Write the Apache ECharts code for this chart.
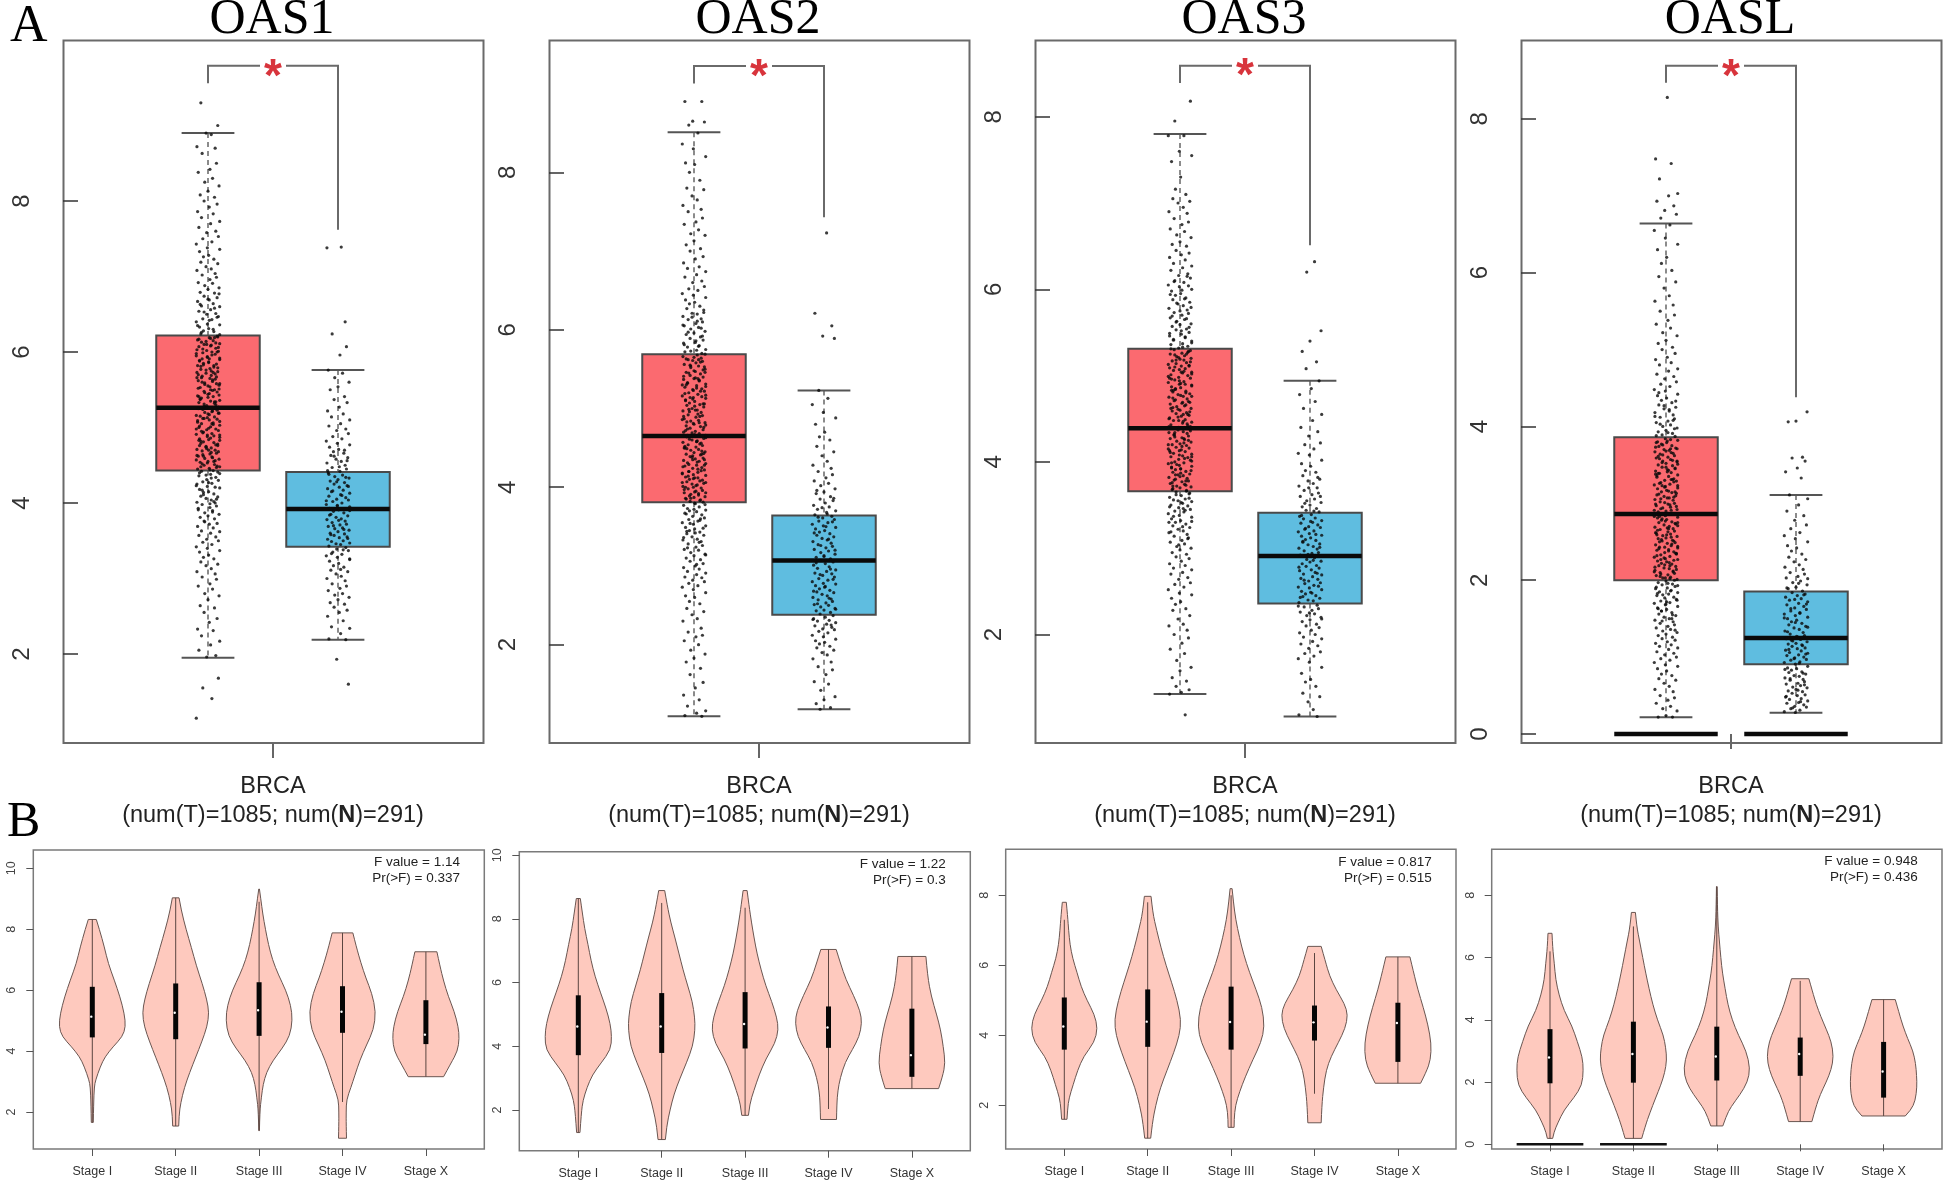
<!DOCTYPE html>
<html><head><meta charset="utf-8"><style>html,body{margin:0;padding:0;background:#fff}#c{width:1944px;height:1182px}</style>
<script src="https://cdn.jsdelivr.net/npm/echarts@6/dist/echarts.min.js"></script></head><body><div id="c"></div>
<script>
// ---------- DATA: panel A ----------
const genes = ['OAS1','OAS2','OAS3','OASL'];
const oas1Ticks = [2,4,6,8], oas2Ticks = [2,4,6,8], oas3Ticks = [2,4,6,8], oaslTicks = [0,2,4,6,8];
// rows: position, whisker low, Q1, median, Q3, whisker high
const oas1Box = [[1,1.95,4.43,5.26,6.22,8.9],[2,2.19,3.42,3.92,4.41,5.76]];
const oas2Box = [[1,1.09,3.81,4.65,5.69,8.51],[2,1.18,2.38,3.07,3.64,5.23]];
const oas3Box = [[1,1.31,3.66,4.39,5.31,7.8],[2,1.05,2.36,2.91,3.41,4.94]];
const oaslBox = [[1,0.217,2.0,2.86,3.86,6.64],[2,0.277,0.906,1.25,1.855,3.11]];
const oaslZero = [0,0];
// rows: bracket top, left end, right end
const brackets = [[9.79,9.56,7.62],[9.35,9.13,7.43],[8.59,8.39,6.51],[8.69,8.47,4.38]];
const oas1Tumor = [1.15,1.41,1.55,1.68,1.96,1.98,2.05,2.12,2.17,2.24,2.31,2.33,2.42,2.47,2.55,2.61,2.64,2.72,2.77,2.8,2.86,2.9,2.93,2.99,3.02,3.06,3.09,3.13,3.17,3.19,3.22,3.26,3.28,3.31,3.35,3.37,3.4,3.42,3.45,3.48,3.5,3.52,3.55,3.57,3.6,3.62,3.63,3.67,3.69,3.72,3.73,3.76,3.79,3.81,3.83,3.85,3.87,3.9,3.91,3.94,3.96,3.98,4.0,4.01,4.04,4.06,4.08,4.09,4.12,4.14,4.15,4.18,4.2,4.22,4.23,4.26,4.28,4.3,4.31,4.34,4.36,4.38,4.39,4.42,
4.43,4.45,4.46,4.49,4.5,4.51,4.54,4.55,4.58,4.59,4.6,4.62,4.65,4.66,4.69,4.7,4.71,4.73,4.75,4.76,4.79,4.8,4.81,4.84,4.85,4.87,4.88,4.91,4.92,4.93,4.96,4.97,4.98,5.0,5.01,5.03,5.05,5.06,5.07,5.1,5.11,5.12,5.14,5.15,5.18,5.19,5.2,5.22,5.25,
4.44,4.47,4.52,4.56,4.63,4.67,4.74,4.78,4.82,4.89,4.94,4.99,5.02,5.08,5.13,5.16,5.21,5.24,
5.27,5.29,5.3,5.33,5.35,5.36,5.39,5.41,5.42,5.45,5.47,5.48,5.5,5.53,5.55,5.56,5.59,5.61,5.62,5.65,5.67,5.68,5.71,5.73,5.75,5.76,5.79,5.81,5.82,5.85,5.87,5.88,5.9,5.93,5.95,5.96,5.99,6.01,6.02,6.05,6.07,6.08,6.11,6.13,6.15,6.16,6.19,6.21,
5.28,5.32,5.38,5.44,5.51,5.57,5.63,5.7,5.78,5.84,5.91,5.97,6.03,6.09,6.14,6.2,
6.24,6.27,6.28,6.31,6.33,6.36,6.37,6.4,6.43,6.44,6.47,6.5,6.51,6.54,6.56,6.6,6.61,6.64,6.67,6.69,6.72,6.74,6.78,6.79,6.83,6.85,6.88,6.91,6.92,6.96,6.99,7.02,7.04,7.08,7.1,7.13,7.17,7.19,7.23,7.26,7.28,7.33,7.36,7.38,7.43,7.46,7.5,7.53,7.58,7.6,7.65,7.7,7.73,7.78,7.83,7.86,7.92,7.96,8.0,8.05,8.08,8.13,8.2,8.25,8.3,8.38,8.42,8.5,8.63,8.7,8.72,8.88,8.9,9.0,9.3,
4.02,4.11,4.27,4.4,4.48,4.53,4.57,4.61,4.64,4.68,4.72,4.77,4.83,4.86,4.9,4.95,5.04,5.09,5.17,5.23,5.31,5.34,5.37,5.4,5.43,5.46,5.49,5.52,5.54,5.58,5.6,5.64,5.66,5.69,5.72,5.74,5.77,5.8,5.83,5.86,5.89,5.92,5.94,5.98,6.0,6.04,6.06,6.1,6.12,6.17,6.18,6.23,6.26,6.3,6.35,6.42,6.46,6.53,6.58,6.63,6.7,6.77,3.75,3.88,3.93,3.99,4.05,4.17,4.21,4.25,4.33,4.37,4.41,4.48,4.55,4.62,4.7,4.76,4.83,4.9,4.98,5.05,5.12,5.19,5.26,5.34,5.41,5.5,5.58,5.66,5.73,5.82,5.91,6.0,6.1,6.19];
const oas1Normal = [1.6,1.93,2.19,2.2,2.27,2.34,2.36,2.44,2.5,2.55,2.58,2.62,2.66,2.68,2.72,2.75,2.78,2.8,2.84,2.87,2.9,2.93,2.97,3.0,3.03,3.06,3.09,3.11,3.15,3.17,3.2,3.23,3.26,3.28,3.3,3.32,3.35,3.37,3.39,3.41,
3.43,3.45,3.47,3.49,3.5,3.52,3.54,3.55,3.57,3.59,3.6,3.62,3.64,3.66,3.67,3.69,3.71,3.72,3.74,3.76,3.78,3.79,3.81,3.83,3.85,3.87,3.89,3.91,3.93,3.95,3.97,3.98,4.0,4.02,4.04,4.05,4.07,4.09,4.11,4.13,4.15,4.17,4.19,4.21,4.23,4.25,4.27,4.29,4.31,4.33,4.35,4.37,4.4,
4.42,4.45,4.47,4.5,4.53,4.55,4.58,4.6,4.63,4.66,4.68,4.71,4.74,4.77,4.79,4.82,4.85,4.88,4.92,4.96,4.98,5.02,5.05,5.1,5.14,5.18,5.22,5.27,5.33,5.37,5.41,5.5,5.54,5.6,5.66,5.72,5.76,5.96,6.07,6.24,6.4,7.38,7.39,
3.46,3.53,3.58,3.65,3.7,3.77,3.84,3.9,3.96,4.03,4.1,4.16,4.22,4.28,4.34,4.38,3.12,3.25,3.33,3.38,4.43,4.48,4.56,4.62,4.7];
const oas2Tumor = [1.09,1.1,1.13,1.16,1.22,1.3,1.36,1.45,1.52,1.62,1.7,1.78,1.83,1.88,1.93,2.0,2.05,2.1,2.12,2.16,2.21,2.3,2.33,2.38,2.42,2.46,2.52,2.55,2.6,2.62,2.66,2.7,2.73,2.75,2.78,2.8,2.82,2.85,2.86,2.89,2.91,2.93,2.96,2.98,3.0,3.03,3.06,3.08,3.1,3.13,3.15,3.17,3.2,3.21,3.24,3.26,3.28,3.31,3.33,3.34,3.37,3.39,3.41,3.43,3.45,3.47,3.49,3.51,3.53,3.55,3.57,3.59,3.61,3.63,3.65,3.67,3.69,3.71,3.73,3.75,3.77,3.79,
3.81,3.82,3.84,3.85,3.87,3.88,3.91,3.92,3.93,3.95,3.96,3.98,3.99,4.01,4.03,4.04,4.05,4.07,4.08,4.1,4.12,4.13,4.15,4.16,4.17,4.19,4.2,4.22,4.24,4.25,4.27,4.28,4.3,4.31,4.33,4.34,4.36,4.37,4.39,4.41,4.42,4.44,4.45,4.47,4.48,4.5,4.51,4.53,4.54,4.56,4.57,4.59,4.6,4.62,4.64,
3.83,3.89,3.94,4.0,4.06,4.11,4.18,4.23,4.29,4.35,4.4,4.46,4.52,4.58,4.63,
4.66,4.68,4.7,4.71,4.73,4.75,4.77,4.78,4.8,4.82,4.84,4.85,4.87,4.89,4.91,4.92,4.95,4.97,4.98,5.0,5.02,5.04,5.05,5.07,5.09,5.11,5.13,5.14,5.16,5.18,5.2,5.22,5.24,5.25,5.27,5.29,5.31,5.32,5.35,5.37,5.39,5.4,5.42,5.44,5.46,5.48,5.5,5.52,5.54,5.56,5.58,5.6,5.62,5.64,5.66,5.68,
4.69,4.76,4.83,4.9,4.96,5.03,5.1,5.17,5.23,5.3,5.38,5.45,5.53,5.61,
5.7,5.72,5.74,5.75,5.78,5.8,5.83,5.84,5.87,5.89,5.91,5.94,5.96,5.98,6.01,6.03,6.05,6.08,6.1,6.13,6.14,6.17,6.2,6.21,6.25,6.27,6.3,6.33,6.35,6.38,6.41,6.44,6.46,6.5,6.52,6.55,6.6,6.62,6.67,6.7,6.74,6.78,6.8,6.85,6.9,6.93,7.0,7.03,7.08,7.13,7.2,7.22,7.27,7.34,7.37,7.42,7.5,7.53,7.58,7.65,7.7,7.78,7.8,7.9,8.0,8.1,8.12,8.2,8.3,8.36,8.5,8.6,8.64,8.65,8.9,8.9,
3.02,3.14,3.23,3.3,3.36,3.42,3.48,3.54,3.6,3.66,3.72,3.78,3.86,3.9,3.97,4.02,4.09,4.14,4.21,4.26,4.32,4.38,4.43,4.49,4.55,4.61,4.67,4.72,4.79,4.81,4.86,4.93,4.99,5.06,5.12,5.15,5.19,5.26,5.28,5.33,5.36,5.41,5.47,5.49,5.55,5.59,5.63,5.65,5.69,5.73,5.79,5.81,5.86,5.92,5.97,6.02,6.06,6.11,6.16,6.22,3.44,3.58,3.7,3.8,3.86,3.93,4.0,4.06,4.12,4.2,4.28,4.35,4.42,4.5,4.58,4.66,4.74,4.82,4.9,4.98,5.06,5.14,5.22,5.3,5.38,5.46,5.54,5.62];
const oas2Normal = [1.18,1.2,1.25,1.3,1.34,1.42,1.5,1.53,1.62,1.68,1.72,1.78,1.82,1.87,1.9,1.93,1.96,1.98,2.01,2.03,2.05,2.07,2.1,2.12,2.15,2.17,2.19,2.2,2.22,2.24,2.26,2.28,2.3,2.31,2.33,2.35,2.37,
2.39,2.41,2.43,2.44,2.46,2.48,2.5,2.51,2.53,2.55,2.57,2.58,2.6,2.62,2.64,2.66,2.67,2.69,2.71,2.73,2.75,2.77,2.78,2.8,2.82,2.84,2.86,2.88,2.9,2.91,2.93,2.95,2.97,2.99,3.01,3.03,3.05,3.07,
3.09,3.11,3.13,3.15,3.17,3.19,3.21,3.23,3.25,3.27,3.29,3.31,3.33,3.35,3.37,3.39,3.41,3.43,3.45,3.47,3.49,3.51,3.53,3.55,3.57,3.59,3.61,3.63,
3.65,3.68,3.7,3.72,3.75,3.77,3.8,3.83,3.85,3.88,3.92,3.94,3.98,4.02,4.05,4.08,4.12,4.16,4.2,4.24,4.28,4.33,4.4,4.45,4.52,4.6,4.64,4.7,4.8,4.88,4.95,5.05,5.13,5.23,5.89,5.92,6.05,6.21,7.23,
2.45,2.52,2.59,2.68,2.74,2.83,2.89,2.96,3.04,3.12,3.2,3.26,3.34,3.42,3.5,3.56,3.62,2.25,2.32,3.66,3.74,3.86,3.96];
const oas3Tumor = [1.07,1.31,1.33,1.36,1.4,1.46,1.5,1.58,1.62,1.7,1.78,1.83,1.9,1.96,2.0,2.05,2.1,2.12,2.18,2.22,2.28,2.3,2.35,2.38,2.42,2.46,2.48,2.52,2.55,2.58,2.6,2.64,2.66,2.7,2.72,2.75,2.77,2.8,2.82,2.85,2.88,2.9,2.93,2.95,2.98,3.0,3.02,3.05,3.07,3.09,3.12,3.14,3.16,3.18,3.2,3.22,3.24,3.26,3.28,3.3,3.32,3.34,3.36,3.38,3.4,3.42,3.43,3.45,3.47,3.49,3.5,3.52,3.54,3.56,3.57,3.59,3.61,3.63,3.65,
3.67,3.68,3.7,3.71,3.72,3.74,3.75,3.77,3.78,3.79,3.81,3.82,3.84,3.85,3.86,3.88,3.89,3.91,3.92,3.93,3.95,3.96,3.98,3.99,4.0,4.02,4.03,4.05,4.06,4.07,4.09,4.1,4.12,4.13,4.14,4.16,4.17,4.19,4.2,4.21,4.23,4.24,4.26,4.27,4.28,4.3,4.31,4.33,4.34,4.35,4.37,4.38,
3.69,3.73,3.8,3.87,3.94,4.01,4.08,4.15,4.22,4.29,4.36,
4.4,4.42,4.43,4.45,4.46,4.48,4.49,4.51,4.53,4.54,4.56,4.57,4.59,4.6,4.62,4.64,4.65,4.67,4.68,4.7,4.71,4.73,4.75,4.76,4.78,4.79,4.81,4.82,4.84,4.86,4.87,4.89,4.9,4.92,4.93,4.95,4.97,4.98,5.0,5.01,5.03,5.04,5.06,5.08,5.09,5.11,5.12,5.14,5.15,5.17,5.19,5.2,5.22,5.23,5.25,5.26,5.28,5.3,
4.44,4.5,4.55,4.61,4.69,4.74,4.8,4.85,4.91,4.96,5.02,5.07,5.13,5.18,5.24,5.29,
5.32,5.34,5.36,5.37,5.4,5.42,5.44,5.46,5.48,5.5,5.53,5.54,5.57,5.59,5.6,5.63,5.65,5.67,5.7,5.72,5.73,5.76,5.78,5.81,5.83,5.85,5.88,5.9,5.93,5.95,5.98,6.0,6.03,6.05,6.08,6.1,6.13,6.16,6.18,6.22,6.25,6.27,6.3,6.34,6.37,6.4,6.42,6.45,6.5,6.52,6.55,6.6,6.63,6.67,6.7,6.75,6.78,6.82,6.88,6.9,6.95,7.0,7.02,7.05,7.1,7.16,7.3,7.48,7.55,7.6,7.78,7.78,7.95,8.18,
3.04,3.11,3.19,3.25,3.31,3.37,3.44,3.48,3.53,3.58,3.62,3.66,3.76,3.83,3.9,3.97,4.04,4.11,4.18,4.25,4.32,4.39,4.41,4.47,4.52,4.58,4.63,4.66,4.72,4.77,4.83,4.88,4.94,4.99,5.05,5.1,5.16,5.21,5.27,5.31,5.33,5.38,5.41,5.45,5.49,5.52,5.56,5.62,5.66,5.69,5.75,5.79,5.84,5.89,5.94,5.99,6.04,6.09,6.15,3.3,3.46,3.55,3.64,3.72,3.78,3.85,3.92,3.99,4.06,4.13,4.2,4.27,4.34,4.41,4.48,4.55,4.62,4.69,4.76,4.83,4.9,4.97,5.04,5.11,5.18,5.25];
const oas3Normal = [1.05,1.07,1.13,1.22,1.28,1.32,1.4,1.45,1.48,1.55,1.62,1.68,1.72,1.75,1.78,1.8,1.84,1.87,1.89,1.92,1.95,1.97,2.0,2.02,2.05,2.08,2.1,2.12,2.15,2.17,2.2,2.22,2.24,2.26,2.28,2.3,2.32,2.34,
2.37,2.39,2.4,2.42,2.44,2.45,2.47,2.49,2.5,2.52,2.54,2.55,2.57,2.59,2.6,2.62,2.64,2.65,2.67,2.69,2.7,2.72,2.74,2.75,2.77,2.79,2.8,2.82,2.84,2.85,2.87,2.89,
2.92,2.94,2.95,2.97,2.99,3.0,3.02,3.04,3.05,3.07,3.09,3.1,3.12,3.14,3.15,3.17,3.19,3.2,3.22,3.24,3.25,3.27,3.29,3.3,3.32,3.34,3.35,3.37,3.39,
3.42,3.44,3.46,3.48,3.5,3.53,3.55,3.57,3.6,3.62,3.64,3.67,3.7,3.72,3.75,3.78,3.8,3.84,3.88,3.9,3.95,3.98,4.02,4.08,4.1,4.15,4.2,4.22,4.3,4.35,4.4,4.48,4.55,4.62,4.7,4.78,4.85,4.94,5.08,5.16,5.28,5.4,5.52,6.2,6.32,
2.43,2.48,2.56,2.63,2.71,2.78,2.86,2.93,3.01,3.08,3.16,3.23,3.31,3.38,2.18,2.25,2.33,3.43,3.52,3.6,3.7,3.82];
const oaslTumor = [0.22,0.22,0.24,0.3,0.33,0.36,0.4,0.44,0.47,0.5,0.55,0.58,0.62,0.66,0.7,0.72,0.76,0.78,0.82,0.85,0.88,0.9,0.93,0.96,0.98,1.0,1.03,1.05,1.07,1.1,1.12,1.14,1.16,1.18,1.2,1.22,1.24,1.26,1.28,1.3,1.32,1.34,1.36,1.38,1.4,1.42,1.44,1.46,1.48,1.5,1.52,1.54,1.56,1.58,1.6,1.62,1.64,1.66,1.68,1.7,1.71,1.73,1.75,1.77,1.78,1.8,1.82,1.84,1.85,1.87,1.89,1.9,1.92,1.94,1.95,1.97,1.99,
2.01,2.03,2.04,2.06,2.07,2.09,2.1,2.12,2.13,2.15,2.16,2.18,2.19,2.21,2.22,2.24,2.25,2.27,2.28,2.3,2.31,2.33,2.34,2.36,2.37,2.39,2.4,2.42,2.43,2.45,2.46,2.48,2.49,2.51,2.52,2.54,2.55,2.57,2.58,2.6,2.61,2.63,2.64,2.66,2.67,2.69,2.7,2.72,2.73,2.75,2.76,2.78,2.79,2.81,2.82,2.84,2.85,
2.02,2.08,2.14,2.2,2.26,2.32,2.38,2.44,2.5,2.56,2.62,2.68,2.74,2.8,
2.87,2.89,2.9,2.92,2.94,2.95,2.97,2.99,3.0,3.02,3.04,3.05,3.07,3.09,3.1,3.12,3.14,3.15,3.17,3.19,3.2,3.22,3.24,3.25,3.27,3.29,3.3,3.32,3.34,3.35,3.37,3.39,3.4,3.42,3.44,3.45,3.47,3.49,3.5,3.52,3.54,3.55,3.57,3.59,3.6,3.62,3.64,3.65,3.67,3.69,3.7,3.72,3.74,3.75,3.77,3.79,3.8,3.82,3.84,
2.91,2.98,3.06,3.13,3.21,3.28,3.36,3.43,3.51,3.58,3.66,3.73,3.81,
3.87,3.89,3.91,3.93,3.95,3.98,4.0,4.02,4.05,4.07,4.1,4.12,4.15,4.18,4.2,4.23,4.25,4.28,4.31,4.34,4.37,4.4,4.42,4.46,4.48,4.52,4.55,4.58,4.62,4.65,4.68,4.72,4.75,4.8,4.83,4.87,4.9,4.95,5.0,5.03,5.08,5.12,5.18,5.22,5.28,5.33,5.38,5.45,5.5,5.58,5.63,5.7,5.8,5.88,5.95,6.03,6.12,6.2,6.3,6.37,6.45,6.55,6.62,6.71,6.76,6.81,6.87,6.93,7.0,7.03,7.22,7.42,7.48,8.28,
1.35,1.47,1.55,1.63,1.69,1.74,1.81,1.86,1.91,1.96,2.0,2.05,2.11,2.17,2.23,2.29,2.35,2.41,2.47,2.53,2.59,2.65,2.71,2.77,2.83,2.86,2.93,2.96,3.01,3.08,3.11,3.16,3.23,3.26,3.31,3.38,3.41,3.46,3.53,3.56,3.61,3.68,3.71,3.76,3.83,3.88,3.92,3.97,4.03,4.08,4.13,4.22,4.27,4.33,4.44,1.5,1.6,1.72,1.83,1.93,2.03,2.11,2.19,2.27,2.35,2.43,2.51,2.59,2.67,2.75,2.83,2.91,2.99,3.07,3.15,3.23,3.31,3.39,3.47,3.55,3.63,3.71,3.79];
const oaslNormal = [0.28,0.29,0.31,0.33,0.35,0.36,0.38,0.4,0.41,0.43,0.45,0.46,0.48,0.5,0.51,0.53,0.55,0.56,0.58,0.6,0.61,0.63,0.65,0.66,0.68,0.7,0.71,0.73,0.75,0.76,0.78,0.8,0.81,0.83,0.85,0.86,0.88,
0.91,0.93,0.94,0.96,0.97,0.99,1.0,1.02,1.03,1.05,1.06,1.08,1.09,1.11,1.12,1.14,1.15,1.17,1.18,1.2,1.21,1.23,1.24,1.26,1.28,1.3,1.32,1.34,1.36,1.38,1.4,1.42,1.44,1.46,1.48,1.5,1.52,1.54,1.56,1.58,1.6,1.62,1.64,1.66,1.68,1.7,1.72,1.74,1.76,1.78,1.8,1.82,1.84,
1.86,1.89,1.91,1.94,1.97,1.99,2.03,2.05,2.08,2.1,2.14,2.17,2.2,2.24,2.27,2.3,2.34,2.38,2.42,2.45,2.5,2.54,2.58,2.62,2.67,2.72,2.78,2.84,2.9,2.98,3.06,3.11,3.33,3.41,3.46,3.55,3.59,3.6,4.06,4.07,4.19,
0.34,0.42,0.49,0.57,0.64,0.72,0.79,0.84,0.92,0.98,1.04,1.1,1.16,1.22,1.27,1.33,1.39,1.45,1.51,1.57,1.63,1.69,1.75,1.81,1.9,1.96,2.02];
// jitter of the dots, in axis units
const jitter = [-.09,.03,-.04,.08,-.01,.06,-.07,.02,.09,-.05,.04,-.08,.01,.07,-.03,.05,-.06,0,.085,-.025,.035,-.075,.015,.065,-.045,.055,-.085,.025,-.015,.075,-.055,.045,-.035,.005,-.065,.09,-.005];
const countLine = 'num(T)=1085; num(N)=291';

// ---------- DATA: panel B ----------
const stages = ['Stage I','Stage II','Stage III','Stage IV','Stage X'];
const stagePos = [1,2,3,4,5];
const fOas1 = ['F value = 1.14','Pr(>F) = 0.337'], fOas2 = ['F value = 1.22','Pr(>F) = 0.3'], fOas3 = ['F value = 0.817','Pr(>F) = 0.515'], fOasl = ['F value = 0.948','Pr(>F) = 0.436'];
const vTicks1 = [2,4,6,8,10], vTicks2 = [2,4,6,8,10], vTicks3 = [2,4,6,8], vTicks4 = [0,2,4,6,8];
// rows: position, whisker low, Q1, median, Q3, whisker high
const v1Stats = [[1,1.66,4.45,5.13,6.11,8.32],[2,1.54,4.39,5.26,6.22,9.03],[3,1.39,4.5,5.34,6.26,8.9],[4,2.33,4.6,5.29,6.13,7.88],[5,3.16,4.23,4.54,5.67,7.26]];
const v2Stats = [[1,1.29,3.72,4.62,5.6,8.64],[2,1.07,3.79,4.62,5.67,8.5],[3,1.83,3.93,4.7,5.7,8.35],[4,2.03,3.95,4.59,5.25,7.04],[5,2.67,3.04,3.72,5.18,6.82]];
const v3Stats = [[1,1.6,3.59,4.25,5.08,7.3],[2,1.06,3.67,4.39,5.31,7.8],[3,1.37,3.59,4.38,5.39,8.0],[4,2.33,3.85,4.37,4.85,6.35],[5,2.63,3.24,4.35,4.93,6.24]];
const v4Stats = [[1,0.19,1.96,2.79,3.7,6.2],[2,0.19,1.98,2.9,3.94,7.0],[3,0.59,2.05,2.82,3.78,8.28],[4,0.73,2.2,2.9,3.43,5.25],[5,0.91,1.5,2.34,3.29,4.65]];
const v4Zero = [1,2];
// density profile per stage: [value, relative half width]
const v1Shape = [
[[8.32,.12],[7.97,.22],[7.42,.36],[6.87,.48],[6.33,.66],[5.78,.83],[5.23,.96],[4.8,1],[4.47,.9],[4.14,.62],[3.81,.38],[3.49,.24],[3.05,.1],[2.83,.06],[2.28,.04],[1.66,.03]],
[[9.03,.1],[8.6,.17],[8,.31],[7.4,.47],[6.8,.62],[6.2,.8],[5.7,.93],[5.26,1],[4.8,.94],[4.3,.78],[3.8,.6],[3.3,.42],[2.8,.26],[2.3,.15],[1.9,.1],[1.54,.09]],
[[9.32,.01],[9,.05],[8.5,.11],[8,.19],[7.5,.28],[7,.4],[6.5,.58],[6,.8],[5.5,.95],[5.02,1],[4.5,.92],[4.1,.7],[3.7,.42],[3.3,.22],[2.9,.12],[2.5,.07],[2,.02],[1.39,.01]],
[[7.88,.31],[7.4,.42],[6.9,.55],[6.4,.7],[5.9,.88],[5.29,1],[4.7,.93],[4.2,.72],[3.7,.52],[3.2,.37],[2.8,.25],[2.4,.12],[2,.11],[1.6,.11],[1.14,.12]],
[[7.26,.33],[6.8,.42],[6.3,.53],[5.8,.67],[5.3,.85],[4.8,.97],[4.42,1],[4,.95],[3.6,.75],[3.16,.53]]];
const v2Shape = [
[[8.64,.06],[8.2,.12],[7.7,.19],[7.2,.29],[6.7,.38],[6.2,.5],[5.7,.66],[5.2,.83],[4.7,.96],[4.31,1],[3.89,.97],[3.47,.68],[3.1,.42],[2.7,.26],[2.3,.14],[1.9,.09],[1.29,.05]],
[[8.89,.09],[8.4,.17],[7.9,.27],[7.4,.4],[6.9,.52],[6.4,.64],[5.9,.78],[5.4,.92],[4.9,.99],[4.52,1],[4,.93],[3.5,.75],[3,.55],[2.5,.37],[2,.25],[1.5,.15],[1.07,.11]],
[[8.89,.06],[8.4,.12],[7.9,.19],[7.4,.27],[6.9,.36],[6.4,.48],[5.9,.62],[5.4,.8],[4.9,.95],[4.52,1],[4.1,.9],[3.6,.62],[3.1,.42],[2.6,.26],[2.2,.14],[1.83,.1]],
[[7.04,.23],[6.6,.36],[6.1,.52],[5.6,.75],[5.1,.95],[4.73,1],[4.3,.92],[3.9,.72],[3.5,.5],[3,.35],[2.6,.28],[2.2,.25],[1.7,.24]],
[[6.82,.42],[6.2,.47],[5.57,.58],[5,.74],[4.52,.86],[3.99,.94],[3.47,1],[3.05,.92],[2.67,.8]]];
const v3Shape = [
[[7.8,.06],[7.4,.1],[7,.13],[6.6,.17],[6.2,.25],[5.8,.38],[5.4,.5],[5,.68],[4.6,.9],[4.2,1],[3.8,.9],[3.4,.58],[3,.4],[2.6,.27],[2.2,.14],[1.9,.1],[1.6,.08]],
[[7.97,.1],[7.5,.15],[7,.27],[6.5,.4],[6,.55],[5.5,.72],[5,.88],[4.44,1],[4,.95],[3.5,.78],[3,.58],[2.5,.38],[2,.24],[1.5,.14],[1.06,.09]],
[[8.19,.03],[7.8,.07],[7.3,.14],[6.8,.25],[6.3,.38],[5.8,.55],[5.3,.75],[4.8,.93],[4.25,1],[3.8,.9],[3.3,.65],[2.8,.42],[2.4,.26],[2,.13],[1.6,.09],[1.37,.09]],
[[6.54,.2],[6.1,.33],[5.7,.45],[5.3,.65],[4.9,.9],[4.58,1],[4.2,.92],[3.8,.72],[3.4,.5],[3,.35],[2.5,.27],[2,.22],[1.5,.2]],
[[6.24,.36],[5.8,.47],[5.3,.6],[4.8,.76],[4.3,.9],[3.77,1],[3.3,.98],[2.95,.85],[2.63,.68]]];
const v4Shape = [
[[6.78,.06],[6.3,.08],[5.8,.13],[5.3,.17],[4.8,.27],[4.3,.42],[3.8,.66],[3.3,.82],[2.8,.97],[2.39,1],[1.9,.96],[1.5,.72],[1.1,.42],[.7,.24],[.4,.12],[.19,.08]],
[[7.45,.06],[7,.1],[6.5,.19],[6,.28],[5.5,.37],[5,.47],[4.5,.58],[4,.72],[3.5,.9],[3.1,.97],[2.71,1],[2.3,.94],[1.9,.82],[1.5,.67],[1,.49],[.6,.36],[.19,.25]],
[[8.28,.01],[7.6,.02],[7,.04],[6.5,.08],[6,.12],[5.5,.17],[5,.25],[4.5,.33],[4,.46],[3.5,.65],[3,.88],[2.44,1],[2,.92],[1.6,.7],[1.2,.42],[.9,.28],[.59,.18]],
[[5.32,.26],[4.9,.37],[4.5,.48],[4.1,.62],[3.7,.78],[3.3,.93],[2.82,1],[2.4,.93],[2,.78],[1.6,.6],[1.2,.47],[.73,.35]],
[[4.65,.35],[4.2,.47],[3.8,.58],[3.4,.72],[3,.88],[2.6,.96],[2.2,.99],[1.85,1],[1.4,.95],[1.1,.82],[.91,.65]]];

// ---------- LAYOUT ----------
const SANS = '"Liberation Sans"', SERIF = '"Liberation Serif"', SANSF = 'Liberation Sans';
const boxHalf = .398, capHalf = .203, violinHalf = .4;
const topLayout = [
 {l:63.5,w:420,ymin:.821,ymax:10.126,ticks:oas1Ticks,box:oas1Box,t:oas1Tumor,n:oas1Normal},
 {l:549.5,w:420,ymin:.751,ymax:9.675,ticks:oas2Ticks,box:oas2Box,t:oas2Tumor,n:oas2Normal},
 {l:1035.5,w:420,ymin:.743,ymax:8.883,ticks:oas3Ticks,box:oas3Box,t:oas3Tumor,n:oas3Normal},
 {l:1521.5,w:420,ymin:-.117,ymax:9.02,ticks:oaslTicks,box:oaslBox,t:oaslTumor,n:oaslNormal,zero:oaslZero}];
const botLayout = [
 {l:33.3,r:484.3,t:850,b:1149,ymin:.787,ymax:10.6,x0:92.3,ticks:vTicks1,stats:v1Stats,shape:v1Shape,f:fOas1,fx:460,fy:862},
 {l:519.3,r:970.3,t:851.7,b:1150.7,ymin:.72,ymax:10.11,x0:578.3,ticks:vTicks2,stats:v2Stats,shape:v2Shape,f:fOas2,fx:945.7,fy:864},
 {l:1005.7,r:1456,t:849.3,b:1149,ymin:.751,ymax:9.314,x0:1064.3,ticks:vTicks3,stats:v3Stats,shape:v3Shape,f:fOas3,fx:1431.7,fy:862},
 {l:1491.7,r:1942,t:849.3,b:1149,ymin:-.151,ymax:9.479,x0:1550,ticks:vTicks4,stats:v4Stats,shape:v4Shape,f:fOasl,fx:1917.7,fy:861,zero:v4Zero}];
const stageStep = 83.4;

const grid=[], xAxis=[], yAxis=[], series=[], graphic=[];
const txt=(text,x,y,font,fill,align)=>({type:'text',x,y,silent:true,style:{text,font,fill:fill||'#111',align:align||'center',verticalAlign:'middle'}});
const line=(a,b,stroke,lineWidth,lineDash)=>({type:'line',shape:{x1:a[0],y1:a[1],x2:b[0],y2:b[1]},style:{stroke,lineWidth,lineDash}});
const richBase={fontFamily:SANSF,fontSize:23.5,color:'#222',lineHeight:29};

// panel A
topLayout.forEach((p,i)=>{
  grid.push({left:p.l,top:40.5,width:p.w,height:702.5,show:true,borderColor:'#6a6a6a',borderWidth:2,backgroundColor:'#fff'});
  const xmin=1-144.5/130, xmax=xmin+p.w/130;
  xAxis.push({gridIndex:i,type:'value',min:xmin,max:xmax,splitLine:{show:false},axisLine:{show:false},
    axisTick:{show:true,length:15,customValues:[1.5],lineStyle:{color:'#666',width:2}},
    axisLabel:{show:true,customValues:[1.5],margin:29,lineHeight:29,formatter:()=>'{b|BRCA}\n{n|('+countLine.split('N')[0]+'}{h|N}{n|'+countLine.split('N')[1]+')}',
      rich:{b:richBase,n:richBase,h:Object.assign({},richBase,{fontWeight:'bold'})}}});
  yAxis.push({gridIndex:i,type:'value',min:p.ymin,max:p.ymax,splitLine:{show:false},axisLine:{show:false},
    axisTick:{show:true,length:15,customValues:p.ticks,lineStyle:{color:'#333',width:1.5}},
    axisLabel:{show:true,customValues:p.ticks,rotate:90,margin:29,fontFamily:SANSF,fontSize:24,color:'#333'}});
  series.push({type:'custom',xAxisIndex:i,yAxisIndex:i,silent:true,z:2,clip:false,data:p.box,
    renderItem(params,api){
      const x=api.value(0),lo=api.value(1),q1=api.value(2),m=api.value(3),q3=api.value(4),hi=api.value(5);
      const c=(a,b)=>api.coord([a,b]);
      const tl=c(x-boxHalf,q3),br=c(x+boxHalf,q1);
      const children=[
        line(c(x,hi),c(x,q3),'#666',1.5,[5,4]),line(c(x,q1),c(x,lo),'#666',1.5,[5,4]),
        line(c(x-capHalf,hi),c(x+capHalf,hi),'#555',2),line(c(x-capHalf,lo),c(x+capHalf,lo),'#555',2),
        {type:'rect',shape:{x:tl[0],y:tl[1],width:br[0]-tl[0],height:br[1]-tl[1]},
         style:{fill:x===1?'#fb6a70':'#5fbde0',stroke:'#4a4a4a',lineWidth:2}},
        line(c(x-boxHalf,m),c(x+boxHalf,m),'#0a0a0a',4.5)];
      if(p.zero) children.push(line(c(x-boxHalf,p.zero[x-1]),c(x+boxHalf,p.zero[x-1]),'#0a0a0a',4.5));
      return {type:'group',children};
    }});
  const pts=[];
  p.t.forEach((v,k)=>pts.push([1+jitter[(k+i*5)%jitter.length],v]));
  p.n.forEach((v,k)=>pts.push([2+jitter[(k+i*11+3)%jitter.length],v]));
  series.push({type:'scatter',xAxisIndex:i,yAxisIndex:i,silent:true,z:3,data:pts,symbol:'circle',symbolSize:3.2,itemStyle:{color:'#0a0a0a'}});
  series.push({type:'custom',xAxisIndex:i,yAxisIndex:i,silent:true,z:4,clip:false,data:[brackets[i]],
    renderItem(params,api){
      const top=api.value(0),le=api.value(1),re=api.value(2);
      const c=(a,b)=>api.coord([a,b]);
      const mid=c(1.5,top);
      return {type:'group',children:[
        {type:'polyline',shape:{points:[c(1,le),c(1,top),c(1.4,top)]},style:{stroke:'#6a6a6a',lineWidth:2,fill:null}},
        {type:'polyline',shape:{points:[c(1.6,top),c(2,top),c(2,re)]},style:{stroke:'#6a6a6a',lineWidth:2,fill:null}},
        txt('*',mid[0],mid[1]+12,'bold 46px '+SANS,'#d8343c')]};
    }});
  graphic.push(txt(genes[i],p.l+208.5,20,'50px '+SERIF,'#000'));
});

// panel B
botLayout.forEach((p,j)=>{
  const i=j+4;
  grid.push({left:p.l,top:p.t,width:p.r-p.l,height:p.b-p.t,show:true,borderColor:'#7a7a7a',borderWidth:1.5,backgroundColor:'#fff'});
  const xmin=1-(p.x0-p.l)/stageStep, xmax=xmin+(p.r-p.l)/stageStep;
  xAxis.push({gridIndex:i,type:'value',min:xmin,max:xmax,splitLine:{show:false},axisLine:{show:false},
    axisTick:{show:true,length:7,customValues:stagePos,lineStyle:{color:'#555',width:1}},
    axisLabel:{show:true,customValues:stagePos,margin:16,fontFamily:SANSF,fontSize:12.5,color:'#333',formatter:v=>stages[stagePos.indexOf(v)]}});
  yAxis.push({gridIndex:i,type:'value',min:p.ymin,max:p.ymax,splitLine:{show:false},axisLine:{show:false},
    axisTick:{show:true,length:7,customValues:p.ticks,lineStyle:{color:'#555',width:1}},
    axisLabel:{show:true,customValues:p.ticks,rotate:90,margin:15,fontFamily:SANSF,fontSize:12.5,color:'#444'}});
  series.push({type:'custom',xAxisIndex:i,yAxisIndex:i,silent:true,z:2,clip:false,data:p.stats,
    renderItem(params,api){
      const x=api.value(0),lo=api.value(1),q1=api.value(2),m=api.value(3),q3=api.value(4),hi=api.value(5);
      const c=(a,b)=>api.coord([a,b]);
      const prof=p.shape[params.dataIndex];
      const R=prof.map(d=>c(x+d[1]*violinHalf,d[0])), L=prof.map(d=>c(x-d[1]*violinHalf,d[0])).reverse();
      const side=P=>{let s='';for(let k=1;k<P.length-1;k++){const a=P[k],b=P[k+1],e=k===P.length-2?b:[(a[0]+b[0])/2,(a[1]+b[1])/2];s+='Q'+a[0]+' '+a[1]+' '+e[0]+' '+e[1]+' ';}return s;};
      const d='M'+R[0][0]+' '+R[0][1]+' '+side(R)+'L'+L[0][0]+' '+L[0][1]+' '+side(L)+'Z';
      const dot=c(x,m);
      const children=[{type:'path',shape:{pathData:d},style:{fill:'#fec9be',stroke:'#6a5651',lineWidth:1}},
        line(c(x,lo),c(x,hi),'#5b4540',1),
        line(c(x,q1),c(x,q3),'#050505',5),
        {type:'circle',shape:{cx:dot[0]-1,cy:dot[1],r:1.2},style:{fill:'#fff'}}];
      if(p.zero&&p.zero.includes(x)) children.push(line(c(x-violinHalf,0),c(x+violinHalf,0),'#111',2.5));
      return {type:'group',children};
    }});
  graphic.push(txt(p.f[0],p.fx,p.fy,'13.5px '+SANS,'#222','right'));
  graphic.push(txt(p.f[1],p.fx,p.fy+16.7,'13.5px '+SANS,'#222','right'));
});
graphic.push(txt('A',10,27,'52px '+SERIF,'#000','left'));
graphic.push(txt('B',7,823,'50px '+SERIF,'#000','left'));

const chart=echarts.init(document.getElementById('c'),null,{renderer:'canvas',width:1944,height:1182});
chart.setOption({animation:false,backgroundColor:'#fff',grid,xAxis,yAxis,series,graphic:{elements:graphic}});
</script></body></html>
